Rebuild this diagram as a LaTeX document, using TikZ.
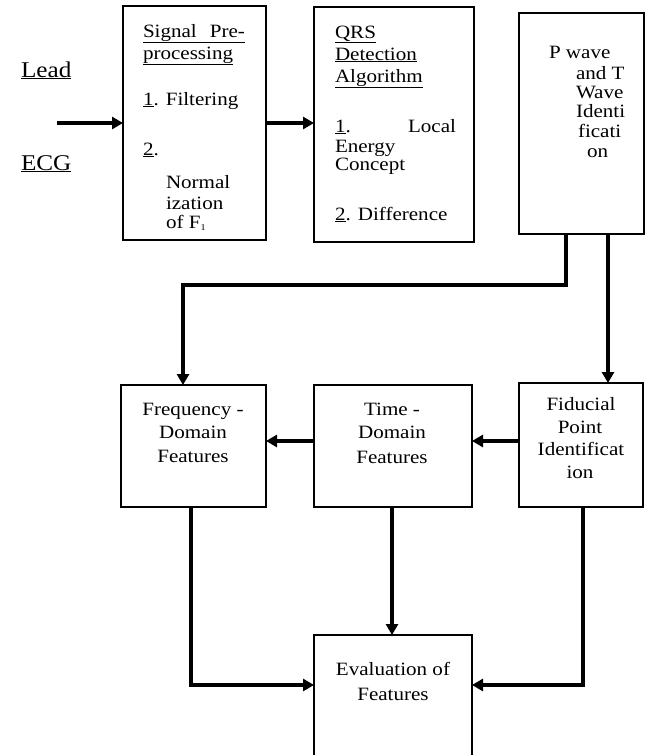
\documentclass[tikz,border=0pt]{standalone}
\usepackage{fontspec}
\setmainfont{Liberation Serif}[FakeStretch=1.12]
\usetikzlibrary{arrows.meta}
\tikzset{
  box/.style={draw, line width=1.6pt, inner sep=0pt, outer sep=0pt, fill=white},
  conn/.style={line width=3.4pt, -{Triangle[length=11pt,width=12pt]}},
  lt/.style={anchor=base west, inner sep=0pt, outer sep=0pt, font=\fontsize{18.8}{22}\selectfont},
  ct/.style={anchor=base, inner sep=0pt, outer sep=0pt, font=\fontsize{18.8}{22}\selectfont},
  big/.style={anchor=base west, inner sep=0pt, outer sep=0pt, font=\fontsize{22.5}{24}\selectfont},
}
\begin{document}
\begin{tikzpicture}[x=1pt,y=-1pt]
\clip (0,0) rectangle (650,755);
\fill[white] (0,0) rectangle (650,755);

% boxes
\node[box, minimum width=143pt, minimum height=234pt] (b1) at (194.5,123) {};
\node[box, minimum width=160pt, minimum height=235pt] (b2) at (394,124.5) {};
\node[box, minimum width=125pt, minimum height=221pt] (b3) at (581.5,123.5) {};
\node[box, minimum width=145pt, minimum height=122pt] (freq) at (193.5,446) {};
\node[box, minimum width=158pt, minimum height=122pt] (time) at (393,446) {};
\node[box, minimum width=124pt, minimum height=124pt] (fid) at (581,445) {};
\node[box, minimum width=158pt, minimum height=135pt] (eval) at (393,702.5) {};

% input labels
\node[big] (lead) at (21,77) {\underline{Lead}};
\node[big] (ecg) at (21,170) {\underline{ECG}};
\coordinate (in) at (57,123);

% box 1 text
\node[lt] (t11) at (143,37) {\underline{\hbox to 102pt{Signal\hfill Pre-}}};
\node[lt] (t12) at (143,59) {\underline{processing}};
\node[lt] (t13) at (143,105) {\underline{1}. Filtering};
\node[lt] (t14) at (143,155) {\underline{2}.};
\node[lt] (t15) at (166,188) {Normal};
\node[lt] (t16) at (166,209) {ization};
\node[lt] (t17) at (166,228) {of F\raisebox{-2pt}{\fontsize{9}{9}\selectfont 1}};

% box 2 text
\node[lt] (t21) at (335,38) {\underline{QRS}};
\node[lt] (t22) at (335,60) {\underline{Detection}};
\node[lt] (t23) at (335,82) {\underline{Algorithm}};
\node[lt] (t24) at (335,132) {\hbox to 121pt{\underline{1}.\hfill Local}};
\node[lt] (t25) at (335,152) {Energy};
\node[lt] (t26) at (335,170) {Concept};
\node[lt] (t27) at (335,220) {\underline{2}. Difference};

% box 3 text
\node[lt] (t31) at (549,58) {P wave};
\node[lt] (t32) at (576,79) {and T};
\node[lt] (t33) at (576,98) {Wave};
\node[lt] (t34) at (576,117) {Identi};
\node[lt] (t35) at (578,137) {ficati};
\node[lt] (t36) at (587,157) {on};

% lower boxes text
\node[ct] (f1) at (193,415) {Frequency -};
\node[ct] (f2) at (193,438) {Domain};
\node[ct] (f3) at (193,462) {Features};
\node[ct] (m1) at (392,415) {Time -};
\node[ct] (m2) at (392,438) {Domain};
\node[ct] (m3) at (392,463) {Features};
\node[ct] (d1) at (581,410) {Fiducial};
\node[ct] (d2) at (580,433) {Point};
\node[ct] (d3) at (581,455) {Identificat};
\node[ct] (d4) at (580,478) {ion};
\node[ct] (e1) at (393,675) {Evaluation of};
\node[ct] (e2) at (393,700) {Features};

% connectors
\draw[conn] (in) -- (in -| b1.west);
\draw[conn] (b1.east |- 0,123) -- (b2.west |- 0,123);
\draw[conn] (b3.south -| 566,0) -- (566,285) -| (freq.north -| 183,0);
\draw[conn] (b3.south -| 608,0) -- (fid.north -| 608,0);
\draw[conn] (time.west |- 0,441) -- (freq.east |- 0,441);
\draw[conn] (fid.west |- 0,441) -- (time.east |- 0,441);
\draw[conn] (freq.south -| 191,0) |- (eval.west |- 0,685);
\draw[conn] (time.south -| 392,0) -- (eval.north -| 392,0);
\draw[conn] (fid.south -| 583,0) |- (eval.east |- 0,685);
\end{tikzpicture}
\end{document}
